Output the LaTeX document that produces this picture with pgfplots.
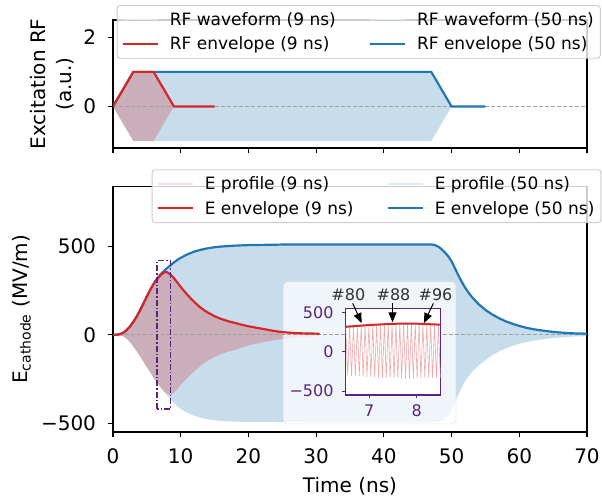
\documentclass[border=0pt]{standalone}
\usepackage{fontspec}
\setmainfont{DejaVu Sans}
\usepackage{pgfplots}
\usepackage{pgfplotstable}
\pgfplotsset{compat=1.18}
\usetikzlibrary{arrows.meta}

\definecolor{tabred}{HTML}{D62728}
\definecolor{tabblue}{HTML}{1F77B4}
\definecolor{zoomviolet}{RGB}{88,36,128}
\definecolor{legframe}{RGB}{204,204,204}
\definecolor{zeroline}{RGB}{160,160,160}

\newcommand{\sz}[2]{\fontsize{#1}{#2}\selectfont}

% cathode field envelope, 9 ns excitation
\pgfplotstableread{
t e
0 0
0.5 1
1.0 4
1.5 12
2.0 27
2.5 47
3.0 74
3.5 104
4.0 140
4.5 179
5.0 218
5.5 256
6.0 289
6.5 315
7.0 338
7.5 353
7.8 357
8.0 355
8.5 342
9.0 322
9.5 297
10.0 272
10.5 249
11.0 227
11.5 206
12.0 187
12.5 169
13.0 153
13.5 139
14.0 127
15.0 106
16.0 90
17.0 78
18.0 68
19.0 58
20.0 49
21.0 42
22.0 35
23.0 28
24.0 21
25.0 16
26.0 13
27.0 10
28.0 9
29.0 8
30.5 7
}\EnvNine

% cathode field envelope, 50 ns excitation
\pgfplotstableread{
t e
0 0
0.5 1
1.0 4
1.5 12
2.0 27
2.5 47
3.0 74
3.5 104
4.0 140
4.5 179
5.0 218
5.5 256
6.0 290
6.5 319
7.0 343
7.5 362
8.0 379
8.5 395
9.0 411
9.5 425
10.0 437
11.0 457
12.0 472
13.0 483
14.0 491
15.0 497
16.0 501
18.0 506
20.0 509
25.0 512
30.0 513
47.0 513
47.5 510
48.0 501
48.5 487
49.0 468
49.5 446
50.0 418
50.5 378
51.0 338
51.5 301
52.0 268
52.5 240
53.0 215
54.0 174
55.0 142
56.0 116
57.0 95
58.0 77
59.0 63
60.0 51
61.0 41
62.0 33
63.0 27
64.0 22
65.0 17
66.0 14
67.0 11
68.0 9
69.0 8
70.0 7
}\EnvFifty

\pgfplotsset{
  panel/.style={
    scale only axis, width=474bp,
    xmin=0, xmax=70,
    axis line style={line width=1.1bp},
    every tick/.style={black, line width=1.1bp},
    major tick length=5bp,
    tick align=outside,
    xtick pos=left, ytick pos=left,
    tick label style={font=\sz{20bp}{24bp}},
    xticklabel style={yshift=-8bp},
    yticklabel style={xshift=-8.5bp},
    xtick={0,10,...,70},
    legend columns=2,
    legend cell align=left,
    legend image code/.code={\draw[##1] (0bp,0bp) -- (35bp,0bp);},
    legend style={
      anchor=north west,
      draw=legframe, line width=0.9bp, rounded corners=3bp,
      fill=white, fill opacity=0.8, draw opacity=1, text opacity=1,
      font=\sz{17bp}{20bp},
      inner xsep=4.5bp, inner ysep=5bp,
      row sep=6bp,
      nodes={inner sep=2bp},
      /tikz/every even column/.append style={column sep=31bp},
      /tikz/every odd column/.append style={column sep=9bp},
    },
  },
}

\begin{document}
\begin{tikzpicture}
\path[use as bounding box] (0bp,0bp) rectangle (602bp,497bp);

% ---------------- excitation RF ----------------
\begin{axis}[panel,
  at={(113bp,349bp)}, anchor=south west, height=128bp,
  ymin=-1.2, ymax=2.5, ytick={0,2}, yticklabels={0,2},
  xticklabels={},
  ylabel={Excitation RF\\(a.u.)},
  ylabel style={align=center, font=\sz{20bp}{26bp},
    at={(axis description cs:-0.128,0.5)}, anchor=center},
  legend style={at={(0.0078,1.117)}},
]
% RF waveforms, drawn as the band they sweep
\addplot[fill=tabblue, fill opacity=0.25, draw=none, forget plot]
  coordinates {(0,0) (3,1) (47,1) (50,0) (47,-1) (3,-1)} -- cycle;
\addplot[fill=tabred, fill opacity=0.25, draw=none, forget plot]
  coordinates {(0,0) (3,1) (6,1) (9,0) (6,-1) (3,-1)} -- cycle;
\addplot[zeroline, line width=1bp, dash pattern=on 4bp off 2bp, forget plot] coordinates {(0,0) (70,0)};
\addplot[tabblue, line width=2.2bp, forget plot] coordinates {(0,0) (3,1) (47,1) (50,0) (55,0)};
\addplot[tabred, line width=2.2bp, forget plot] coordinates {(0,0) (3,1) (6,1) (9,0) (15,0)};

\addlegendimage{tabred!15, line width=1.5bp}
\addlegendentry{RF waveform (9 ns)}
\addlegendimage{tabblue!15, line width=1.5bp}
\addlegendentry{RF waveform (50 ns)}
\addlegendimage{tabred, line width=2.2bp}
\addlegendentry{RF envelope (9 ns)}
\addlegendimage{tabblue, line width=2.2bp}
\addlegendentry{RF envelope (50 ns)}
\end{axis}

% ---------------- cathode field ----------------
\begin{axis}[panel,
  at={(113bp,65bp)}, anchor=south west, height=245.3bp,
  ymin=-550, ymax=840, ytick={-500,0,500}, yticklabels={−500,0,500},
  xticklabels={0,10,20,30,40,50,60,70},
  xlabel={Time (ns)},
  xlabel style={font=\sz{20bp}{24bp}, at={(axis description cs:0.5,-0.2466)}, anchor=base},
  ylabel={E\textsubscript{cathode} (MV/m)},
  ylabel style={font=\sz{20bp}{24bp}, at={(axis description cs:-0.181,0.5)}, anchor=base},
  legend style={at={(0.0816,1.0709)}},
]
% band swept by the 50 ns field oscillation (upper edge, then lower edge back)
\addplot[fill=tabblue, fill opacity=0.25, draw=none, forget plot] coordinates {
(0,0) (0.5,1) (1.0,4) (1.5,12) (2.0,27) (2.5,47) (3.0,74) (3.5,104) (4.0,140)
(4.5,179) (5.0,218) (5.5,256) (6.0,290) (6.5,319) (7.0,343) (7.5,362) (8.0,379)
(8.5,395) (9.0,411) (9.5,425) (10.0,437) (11.0,457) (12.0,472) (13.0,483)
(14.0,491) (15.0,497) (16.0,501) (18.0,506) (20.0,509) (25.0,512) (30.0,513)
(47.0,513) (47.5,510) (48.0,501) (48.5,487) (49.0,468) (49.5,446) (50.0,418)
(50.5,378) (51.0,338) (51.5,301) (52.0,268) (52.5,240) (53.0,215) (54.0,174)
(55.0,142) (56.0,116) (57.0,95) (58.0,77) (59.0,63) (60.0,51) (61.0,41)
(62.0,33) (63.0,27) (64.0,22) (65.0,17) (66.0,14) (67.0,11) (68.0,9) (69.0,8)
(70.0,7)
(70.0,-7) (68.0,-9) (66.0,-14) (64.0,-22) (62.0,-33) (60.0,-50) (59.0,-62)
(58.0,-76) (57.0,-94) (56.0,-115) (55.0,-142) (54.0,-172) (53.0,-210)
(52.0,-262) (51.0,-338) (50.5,-380) (50.0,-425) (49.5,-458) (48.5,-486)
(47.5,-495) (30.0,-495) (20.0,-493) (17.0,-490) (15.0,-484) (14.0,-478)
(13.0,-470) (12.0,-458) (11.0,-441) (10.0,-420) (9.5,-404) (9.0,-385)
(8.5,-364) (8.0,-343) (7.5,-320) (7.0,-296) (6.5,-270) (6.0,-242) (5.5,-212)
(5.0,-183) (4.5,-152) (4.0,-122) (3.5,-92) (3.0,-65) (2.5,-40) (2.0,-22)
(1.5,-8) (1.0,-2)} -- cycle;
% band swept by the 9 ns field oscillation
\addplot[fill=tabred, fill opacity=0.25, draw=none, forget plot] coordinates {
(0,0) (0.5,1) (1.0,4) (1.5,12) (2.0,27) (2.5,47) (3.0,74) (3.5,104) (4.0,140)
(4.5,179) (5.0,218) (5.5,256) (6.0,289) (6.5,315) (7.0,338) (7.5,353) (7.8,357)
(8.0,355) (8.5,342) (9.0,322) (9.5,297) (10.0,272) (10.5,249) (11.0,227)
(11.5,206) (12.0,187) (12.5,169) (13.0,153) (13.5,139) (14.0,127) (15.0,106)
(16.0,90) (17.0,78) (18.0,68) (19.0,58) (20.0,49) (21.0,42) (22.0,35) (23.0,28)
(24.0,21) (25.0,16) (26.0,13) (27.0,10) (28.0,9) (29.0,8) (30.5,7)
(30.5,-7) (28.0,-11) (26.0,-18) (24.0,-28) (22.0,-42) (20.0,-60) (19.0,-72)
(18.0,-85) (17.0,-95) (16.0,-108) (15.0,-125) (14.0,-146) (13.0,-172)
(12.0,-206) (11.0,-243) (10.0,-283) (9.5,-305) (9.0,-328) (8.5,-340)
(8.0,-333) (7.5,-318) (7.0,-295) (6.5,-270) (6.0,-242) (5.5,-212) (5.0,-183)
(4.5,-152) (4.0,-122) (3.5,-92) (3.0,-65) (2.5,-40) (2.0,-22) (1.5,-8)
(1.0,-2)} -- cycle;

% backdrop of the zoomed view
\draw[fill=white, fill opacity=0.72, draw=legframe, draw opacity=0.5, line width=0.6bp, rounded corners=4bp]
  (axis cs:25.1,302) rectangle (axis cs:50.66,-504);

\addplot[zeroline, line width=1bp, dash pattern=on 4bp off 2bp, forget plot] coordinates {(0,0) (70,0)};
\addplot[tabblue, line width=2.2bp, forget plot] table[x=t,y=e] {\EnvFifty};
\addplot[tabred, line width=2.2bp, forget plot] table[x=t,y=e] {\EnvNine};

% region shown in the zoomed view
\draw[zoomviolet, line width=1.3bp, dash pattern=on 6bp off 2bp on 1.5bp off 2bp]
  (axis cs:6.5,-420) rectangle (axis cs:8.5,420);

\addlegendimage{tabred!15, line width=1.5bp}
\addlegendentry{E profile (9 ns)}
\addlegendimage{tabblue!15, line width=1.5bp}
\addlegendentry{E profile (50 ns)}
\addlegendimage{tabred, line width=2.2bp}
\addlegendentry{E envelope (9 ns)}
\addlegendimage{tabblue, line width=2.2bp}
\addlegendentry{E envelope (50 ns)}
\end{axis}

% ---------------- zoomed view ----------------
\begin{axis}[
  scale only axis, at={(345.5bp,102bp)}, anchor=south west,
  width=95bp, height=86.7bp,
  xmin=6.5, xmax=8.5, ymin=-550, ymax=550,
  xtick={7,8}, xticklabels={7,8},
  ytick={-500,0,500}, yticklabels={−500,0,500},
  axis line style={zoomviolet, line width=1.5bp},
  every tick/.style={zoomviolet, line width=1bp},
  major tick length=3.5bp, tick align=outside,
  xtick pos=left, ytick pos=left,
  tick label style={font=\sz{16bp}{19bp}, text=zoomviolet},
  xticklabel style={yshift=-3bp},
  yticklabel style={xshift=-5bp},
  axis background/.style={fill=white},
  clip mode=individual,
]
\addplot[tabred!40, line width=0.6bp] coordinates {
(6.505,315) (6.546,-302) (6.586,319) (6.627,-306) (6.668,323) (6.708,-310)
(6.749,327) (6.790,-314) (6.830,330) (6.871,-317) (6.911,333) (6.952,-320)
(6.993,337) (7.033,-324) (7.074,340) (7.114,-326) (7.155,343) (7.196,-329)
(7.236,346) (7.277,-332) (7.318,349) (7.358,-335) (7.399,351) (7.439,-337)
(7.480,352) (7.521,-338) (7.561,354) (7.602,-340) (7.643,355) (7.683,-341)
(7.724,356) (7.764,-342) (7.805,357) (7.846,-342) (7.886,356) (7.927,-341)
(7.968,355) (8.008,-340) (8.049,353) (8.089,-338) (8.130,351) (8.171,-336)
(8.211,349) (8.252,-334) (8.293,347) (8.333,-332) (8.374,345) (8.414,-330)
(8.455,343) (8.496,-328)};
\addplot[tabred, line width=2bp] table[x=t,y=e] {\EnvNine};

% pulse markers
\node[font=\sz{16bp}{19bp}, text=black!80] at (axis cs:6.56,719) {\#80};
\node[font=\sz{16bp}{19bp}, text=black!80] at (axis cs:7.51,719) {\#88};
\node[font=\sz{16bp}{19bp}, text=black!80] at (axis cs:8.395,719) {\#96};
\draw[-{Triangle[width=8bp,length=10bp]}, line width=1bp, black]
  (axis cs:6.652,613) -- (axis cs:6.84,362);
\draw[-{Triangle[width=8bp,length=10bp]}, line width=1bp, black]
  (axis cs:7.49,613) -- (axis cs:7.49,372);
\draw[-{Triangle[width=8bp,length=10bp]}, line width=1bp, black]
  (axis cs:8.35,613) -- (axis cs:8.15,362);
\end{axis}
\end{tikzpicture}
\end{document}
